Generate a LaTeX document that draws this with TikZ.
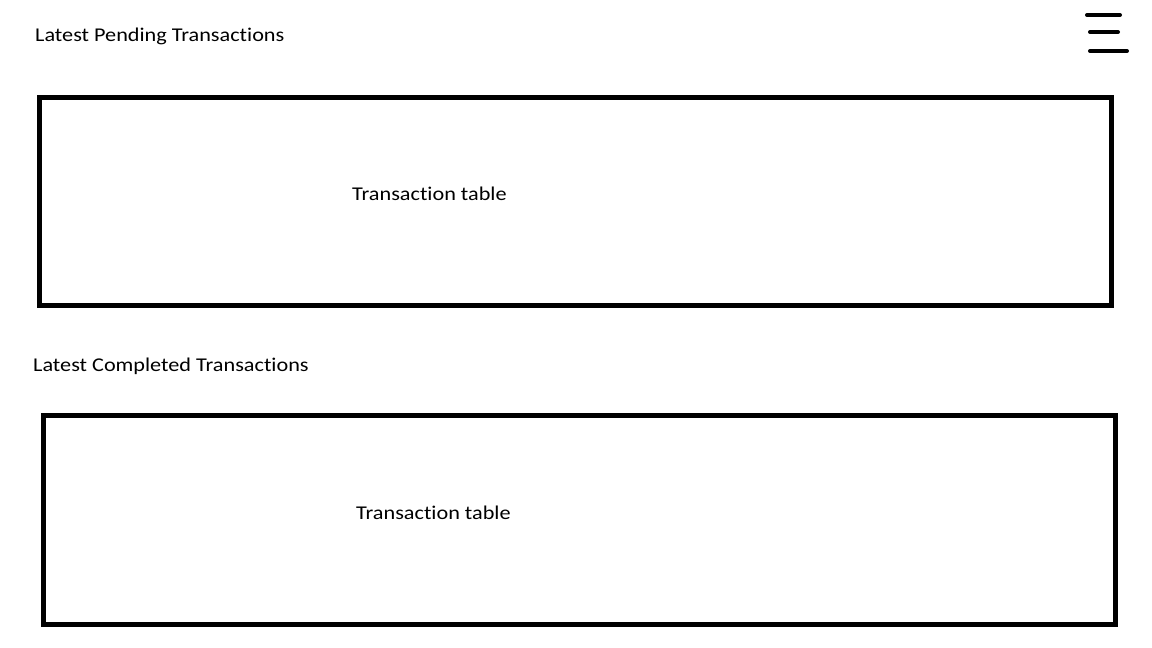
\documentclass[tikz,border=0pt]{standalone}
\usepackage{fontspec}
\usepackage{graphicx}
\setmainfont{Carlito}[Ligatures=NoCommon]
\newcommand{\widetxt}[1]{\scalebox{1.14}[1]{#1}}
\begin{document}
\begin{tikzpicture}[x=1pt,y=-1pt,
  box/.style={draw=black,line width=5pt,fill=none},
  lbl/.style={font=\fontsize{19.5}{22}\selectfont,inner sep=0pt,text=black,anchor=base west},
  bar/.style={line width=4pt,line cap=round}]
\useasboundingbox[fill=white] (0,0) rectangle (1152,648);
\node[lbl] (t1) at (35,41) {\widetxt{Latest Pending Transactions}};
\node[lbl] (t2) at (33,371) {\widetxt{Latest Completed Transactions}};
\draw[box] (39.5,97.5) rectangle (1111,305);
\node[lbl] (tab1) at (352,200) {\widetxt{Transaction table}};
\draw[box] (43.5,415) rectangle (1115,624);
\node[lbl] (tab2) at (356,519) {\widetxt{Transaction table}};
\coordinate (h1a) at (1087,15); \coordinate (h1b) at (1120,15);
\coordinate (h2a) at (1090,32); \coordinate (h2b) at (1118,32);
\coordinate (h3a) at (1090,51); \coordinate (h3b) at (1127,51);
\draw[bar] (h1a) -- (h1b);
\draw[bar] (h2a) -- (h2b);
\draw[bar] (h3a) -- (h3b);
\end{tikzpicture}
\end{document}
